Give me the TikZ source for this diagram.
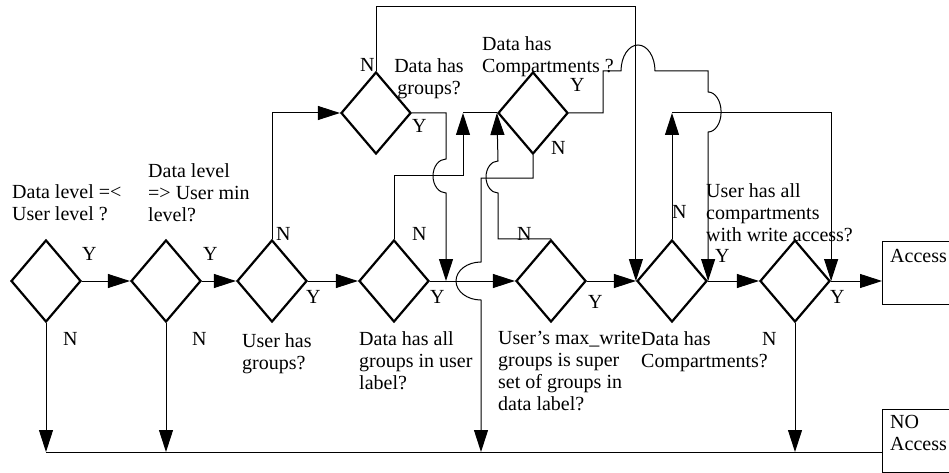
\documentclass[tikz,border=0pt]{standalone}
\usepackage{fontspec}
\setmainfont{Liberation Serif}
\usetikzlibrary{shapes.geometric, arrows.meta, positioning}

\begin{document}
\begin{tikzpicture}[
    x=1pt, y=-1pt,
    font=\fontsize{20}{22}\selectfont,
    % Define styles for the nodes
    decision/.style={diamond, draw=black, line width=2.2pt, minimum width=70pt, minimum height=82pt, inner sep=0pt},
    outcome/.style={rectangle, draw=black, line width=1pt, minimum width=80pt, minimum height=63pt, inner sep=0pt, anchor=north west},
    question/.style={anchor=north west, align=left, inner sep=0pt},
    answer/.style={anchor=base west, inner sep=0pt},
    flow/.style={-{Triangle[length=22pt, width=14pt]}, line width=1pt},
    wire/.style={line width=1pt}
  ]
    \clip (0,0) rectangle (949,473);

    % --- Decisions ---
    \node[decision] (chklevel) at (46,281) {};
    \node[decision] (chkmin) at (166,281) {};
    \node[decision] (usergrp) at (272,281) {};
    \node[decision] (allgrp) at (394,281) {};
    \node[decision] (supergrp) at (551,281) {};
    \node[decision] (datacomp) at (672,281) {};
    \node[decision] (usercomp) at (795,281) {};
    \node[decision] (datagrp) at (376,113) {};
    \node[decision] (compq) at (533,113) {};

    % --- Outcomes ---
    \node[outcome, label={[anchor=north west, inner sep=0pt, xshift=8pt, yshift=-8pt]north west:Access}] (access) at (882,241) {};
    \node[outcome, label={[anchor=north west, align=left, inner sep=0pt, xshift=8pt, yshift=-6pt]north west:NO\\Access}] (noaccess) at (882,409) {};

    % --- Questions ---
    \node[question] (q1) at (12,184) {Data level =<\\User level ?};
    \node[question] (q2) at (148,163) {Data level\\=> User min\\level?};
    \node[question] (q3) at (242,333) {User has\\groups?};
    \node[question, anchor=north, align=center] (q4) at (429,58) {Data has\\groups?};
    \node[question] (q5) at (482,36) {Data has\\Compartments ?};
    \node[question] (q6) at (359,331) {Data has all\\groups in user\\label?};
    \node[question] (q7) at (498,331) {User's max\_write\\groups is super\\set of groups in\\data label?};
    \node[question] (q8) at (641,331) {Data has\\Compartments?};
    \node[question] (q9) at (706,183) {User has all\\compartments\\with write access?};

    % --- Y / N ---
    \node[answer] (y1) at (82,260) {Y};
    \node[answer] (n1) at (63,345) {N};
    \node[answer] (y2) at (203,260) {Y};
    \node[answer] (n2) at (192,345) {N};
    \node[answer] (n3) at (276,240) {N};
    \node[answer] (y3) at (306,303) {Y};
    \node[answer] (n8) at (360,72) {N};
    \node[answer] (y8) at (412,133) {Y};
    \node[answer] (yq) at (570,92) {Y};
    \node[answer] (nq) at (551,155) {N};
    \node[answer] (n4) at (412,240) {N};
    \node[answer] (y4) at (430,303) {Y};
    \node[answer] (n5) at (517,240) {N};
    \node[answer] (y5) at (588,308) {Y};
    \node[answer] (n6) at (672,218) {N};
    \node[answer] (y6) at (715,262) {Y};
    \node[answer] (y7) at (830,303) {Y};
    \node[answer] (n7) at (762,345) {N};

    % --- Helper points ---
    \coordinate (bus) at (0,452);
    \coordinate (topline) at (0,7);
    \coordinate (merge) at (446,281);
    \coordinate (joinA) at (463,113);
    \coordinate (joinB) at (datacomp.north |- 0,113);

    % --- Edges ---
    \draw[flow] (chklevel) -- (chkmin);
    \draw[flow] (chkmin) -- (usergrp);
    \draw[flow] (usergrp) -- (allgrp);
    \draw[flow] (allgrp) -- (supergrp);
    \draw[flow] (supergrp) -- (datacomp);
    \draw[flow] (datacomp) -- (usercomp);
    \draw[flow] (usercomp.east) -- (access.west |- usercomp.east);

    % 1. No branches into the bus
    \draw[flow] (chklevel.south) -- (chklevel.south |- bus);
    \draw[flow] (chkmin.south) -- (chkmin.south |- bus);
    \draw[flow] (usercomp.south) -- (usercomp.south |- bus);
    \draw[wire] (chklevel.south |- bus) -- (noaccess.west |- bus);

    % 2. Group checks
    \draw[flow] (usergrp.north) |- (datagrp.west);
    \draw[flow] (datagrp.north) -- (datagrp.north |- topline) -| (datacomp.west);
    \draw[flow] (datagrp.east) -| (446,159) arc[start angle=270, end angle=90, x radius=13, y radius=17] -- (merge);
    \draw[flow] (allgrp.north) -- ++(0,-63) -| (joinA);
    \draw[wire] (joinA) -- (compq.west);
    \draw[flow] (supergrp.north) -| (498,193) arc[start angle=90, end angle=270, x radius=12, y radius=16] -- (compq.west);

    % 3. Compartment checks
    \draw[flow] (compq.south) -- ++(0,23) -| (481,262) arc[start angle=270, end angle=90, x radius=25, y radius=19] -- (481,452);
    \draw[flow] (compq.east) -| (603,71) -- (621,71) arc[start angle=180, end angle=360, x radius=17, y radius=26] -- (datacomp.east |- 0,71) -- ++(0,21) arc[start angle=270, end angle=450, x radius=13, y radius=20] -- (datacomp.east);
    \draw[flow] (datacomp.north) -- (joinB);
    \draw[flow] (joinB) -| (usercomp.east);

\end{tikzpicture}
\end{document}
